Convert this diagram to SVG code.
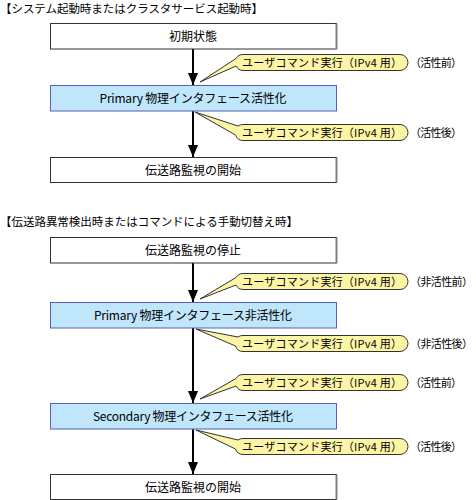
<svg xmlns="http://www.w3.org/2000/svg" width="476" height="500" viewBox="0 0 476 500">
<style>
text{font-family:"Noto Sans CJK JP","Noto Sans",sans-serif;fill:#000}
.t{font-size:11.5px}
.n{font-size:12px;text-anchor:middle}
.c{font-size:11px}
.w{fill:#fff;stroke:#333;stroke-width:1}
.b{fill:#bfe6fa;stroke:#5560b8;stroke-width:1}
.sh{stroke:#808080;stroke-width:2}
.co{fill:#fdf5a6;stroke:#333;stroke-width:1}
.ln{stroke:#000;stroke-width:2;fill:none}
</style>
<defs>
<marker id="ah" markerWidth="12" markerHeight="10" refX="12" refY="5" orient="auto" markerUnits="userSpaceOnUse">
<path d="M0,0 L12,5 L0,10 Z" fill="#000"/>
</marker>
</defs>
<text class="t" x="0" y="13" textLength="263">【システム起動時またはクラスタサービス起動時】</text>
<text class="t" x="0" y="226" textLength="298">【伝送路異常検出時またはコマンドによる手動切替え時】</text>
<g id="connectors">
<line class="ln" x1="193" y1="49" x2="193" y2="85" marker-end="url(#ah)"/>
<line class="ln" x1="193" y1="111" x2="193" y2="157" marker-end="url(#ah)"/>
<line class="ln" x1="193" y1="263" x2="193" y2="302" marker-end="url(#ah)"/>
<line class="ln" x1="193" y1="328" x2="193" y2="403" marker-end="url(#ah)"/>
<line class="ln" x1="193" y1="429" x2="193" y2="474" marker-end="url(#ah)"/>
</g>
<g id="n1"><rect class="w" x="50.5" y="23.5" width="286" height="25.5"/><line class="sh" x1="336.5" y1="23.5" x2="336.5" y2="49"/><text class="n" x="193" y="41">初期状態</text></g>
<g id="n2"><rect class="b" x="50.5" y="85.5" width="286" height="25.5"/><text class="n" x="193" y="103" textLength="187">Primary 物理インタフェース活性化</text></g>
<g id="n3"><rect class="w" x="50.5" y="157.5" width="286" height="25"/><line class="sh" x1="336.5" y1="157.5" x2="336.5" y2="182.5"/><text class="n" x="193" y="175">伝送路監視の開始</text></g>
<g id="n4"><rect class="w" x="50.5" y="237.5" width="286" height="25.5"/><line class="sh" x1="336.5" y1="237.5" x2="336.5" y2="263"/><text class="n" x="193" y="255">伝送路監視の停止</text></g>
<g id="n5"><rect class="b" x="50.5" y="302.5" width="286" height="25.5"/><text class="n" x="193" y="320" textLength="198">Primary 物理インタフェース非活性化</text></g>
<g id="n6"><rect class="b" x="50.5" y="403.5" width="286" height="25.5"/><text class="n" x="193" y="421" textLength="200">Secondary 物理インタフェース活性化</text></g>
<g id="n7"><rect class="w" x="50.5" y="474.5" width="286" height="25"/><line class="sh" x1="336.5" y1="474.5" x2="336.5" y2="499.5"/><text class="n" x="193" y="492">伝送路監視の開始</text></g>
<g id="c1"><path class="co" d="M243,54.5 H400 A8,8 0 0 1 400,70.5 H243 A8,8 0 0 1 236,66 L200,82 L236,58.5 A8,8 0 0 1 243,54.5 Z"/><text class="c" x="242" y="66.5" textLength="160">ユーザコマンド実行（IPv4 用）</text><text class="c" x="410" y="66.5" textLength="52">（活性前）</text></g>
<g id="c2"><path class="co" d="M243,124.5 H400 A8,8 0 0 1 400,140.5 H243 A8,8 0 0 1 235.5,135 L195,112 L238,126 A8,8 0 0 1 243,124.5 Z"/><text class="c" x="242" y="136.5" textLength="160">ユーザコマンド実行（IPv4 用）</text><text class="c" x="410" y="136.5" textLength="52">（活性後）</text></g>
<g id="c3"><path class="co" d="M243,273.5 H400 A8,8 0 0 1 400,289.5 H243 A8,8 0 0 1 236,285 L200,299 L236,277.5 A8,8 0 0 1 243,273.5 Z"/><text class="c" x="242" y="285.5" textLength="160">ユーザコマンド実行（IPv4 用）</text><text class="c" x="410" y="285.5" textLength="63">（非活性前）</text></g>
<g id="c4"><path class="co" d="M243,335.5 H400 A8,8 0 0 1 400,351.5 H243 A8,8 0 0 1 235.5,346 L196,329 L238,337 A8,8 0 0 1 243,335.5 Z"/><text class="c" x="242" y="347.5" textLength="160">ユーザコマンド実行（IPv4 用）</text><text class="c" x="410" y="347.5" textLength="63">（非活性後）</text></g>
<g id="c5"><path class="co" d="M243,374.5 H400 A8,8 0 0 1 400,390.5 H243 A8,8 0 0 1 236,386 L200,399 L236,378.5 A8,8 0 0 1 243,374.5 Z"/><text class="c" x="242" y="386.5" textLength="160">ユーザコマンド実行（IPv4 用）</text><text class="c" x="410" y="386.5" textLength="52">（活性前）</text></g>
<g id="c6"><path class="co" d="M243,438.5 H400 A8,8 0 0 1 400,454.5 H243 A8,8 0 0 1 235.5,449 L196,430 L238,440 A8,8 0 0 1 243,438.5 Z"/><text class="c" x="242" y="450.5" textLength="160">ユーザコマンド実行（IPv4 用）</text><text class="c" x="410" y="450.5" textLength="52">（活性後）</text></g>
</svg>
